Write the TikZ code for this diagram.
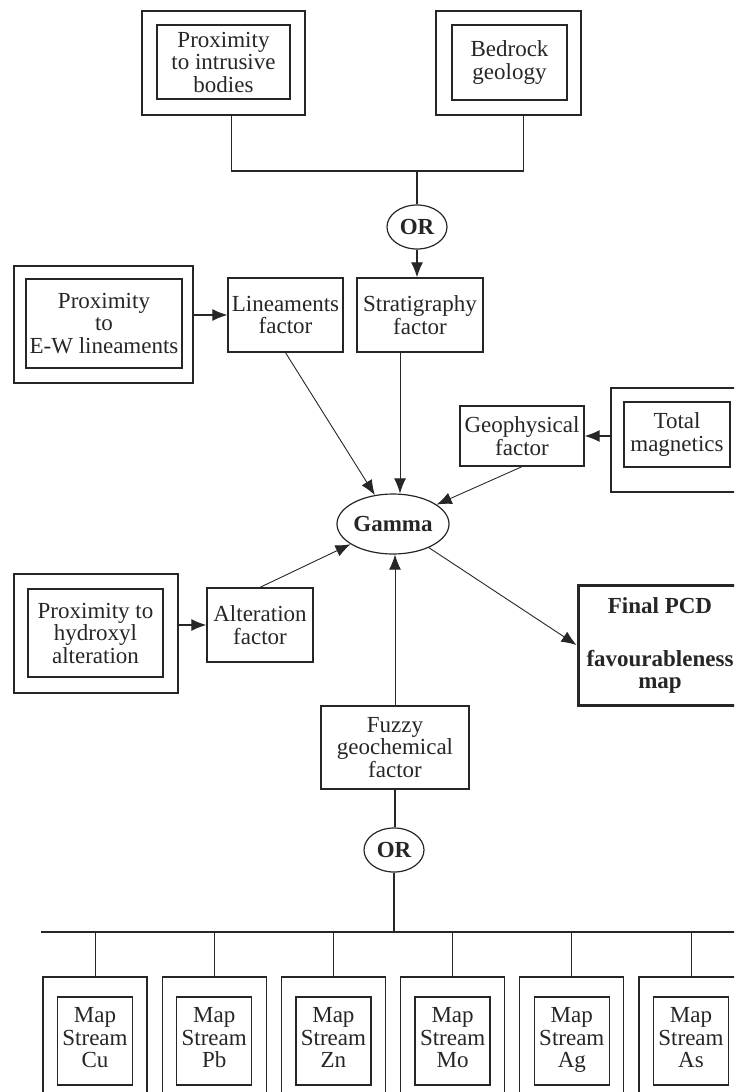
\documentclass[tikz,border=0pt]{standalone}
\usepackage{fontspec}
\setmainfont{Liberation Serif}
\usepackage{xcolor}
\usetikzlibrary{arrows.meta,shapes.geometric}

\begin{document}
\begin{tikzpicture}[x=1pt,y=-1pt,
  every node/.style={font=\fontsize{23}{22.5}\selectfont,align=center,inner sep=0pt,text=black!85},
  dblout/.style={draw=black!85,line width=1.3pt,rectangle},
  dblin/.style={draw=black!85,line width=1.3pt,rectangle},
  factor/.style={draw=black!85,line width=1.3pt,rectangle},
  gate/.style={draw=black!85,line width=1.2pt,ellipse,font=\fontsize{23}{22.5}\selectfont\bfseries},
  link/.style={draw=black!85,line width=1.3pt},
  arr/.style={draw=black!85,line width=0.9pt,-{Latex[length=15pt,width=12pt]}}]
  \useasboundingbox (0,0) rectangle (734,1092);
  \clip (0,0) rectangle (734,1092);
  % --- top: geology inputs
  \node[dblout,minimum width=163,minimum height=104] (intrO) at (223.5,63) {};
  \node[dblin,minimum width=133,minimum height=74] (intr) at (223.5,62) {Proximity\\to intrusive\\bodies};
  \node[dblout,minimum width=145,minimum height=104] (bedO) at (508.5,63) {};
  \node[dblin,minimum width=115,minimum height=75] (bed) at (509.5,62.5) {Bedrock\\geology};
  \coordinate (j1) at (417,171);
  \node[gate,minimum width=60,minimum height=44] (or1) at (417,227) {OR};
  \draw[link] ([xshift=8]intrO.south) |- (j1) -| ([xshift=15]bedO.south);
  \draw[link] (j1) -- (or1);
  % --- factors
  \node[factor,minimum width=126,minimum height=74] (strat) at (420,315) {Stratigraphy\\factor};
  \node[factor,minimum width=115,minimum height=74] (lin) at (285.5,315) {Lineaments\\factor};
  \node[dblout,minimum width=179,minimum height=117] (ewO) at (103.5,324.5) {};
  \node[dblin,minimum width=156,minimum height=89] (ew) at (104,323.5) {Proximity\\to\\E-W lineaments};
  \node[factor,minimum width=124,minimum height=60] (geo) at (522,436) {Geophysical\\factor};
  \node[dblout,minimum width=132,minimum height=104] (magO) at (677,440) {};
  \node[dblin,minimum width=106,minimum height=65] (mag) at (677,434.5) {Total\\magnetics};
  \node[dblout,minimum width=164,minimum height=119] (hyO) at (96,633.5) {};
  \node[dblin,minimum width=135,minimum height=88] (hy) at (95.5,633) {Proximity to\\hydroxyl\\alteration};
  \node[factor,minimum width=106,minimum height=74] (alt) at (260,625) {Alteration\\factor};
  \node[factor,minimum width=148,minimum height=83] (fuzzy) at (395,747.5) {Fuzzy\\geochemical\\factor};
  % --- gamma and result
  \node[gate,minimum width=88,minimum height=60] (gamma) at (393,524) {Gamma};
  \node[draw=black!85,line width=3pt,minimum width=164,minimum height=120,font=\fontsize{23}{22}\selectfont\bfseries] (final) at (660,645) {Final PCD\\[31pt]favourableness\\map};
  \draw[arr,line width=1.2pt] (or1.south) -- (or1.south |- strat.north);
  \draw[arr,line width=1.2pt] (ewO.east |- lin) -- (lin.west);
  \draw[arr,line width=1.2pt] (magO.west |- geo) -- (geo.east);
  \draw[arr,line width=1.2pt] (hyO.east |- alt) -- (alt.west);
  \draw[arr] (lin.south) -- (gamma);
  \draw[arr] ([xshift=-20]strat.south) -- ([xshift=-20]strat.south |- gamma.north);
  \draw[arr] (geo.south) -- (gamma);
  \draw[arr] (alt.north) -- (gamma);
  \draw[arr] (fuzzy.north) -- (fuzzy.north |- gamma.south);
  \draw[arr] (gamma) -- (final.west);
  % --- bottom: stream sediment maps
  \node[gate,minimum width=60,minimum height=44] (or2) at (394,850) {OR};
  \coordinate (busL) at (41,932);
  \coordinate (busR) at (760,932);
  \draw[link] (fuzzy.south) -- (fuzzy.south |- or2.north);
  \draw[link] (or2.south) -- (or2.south |- busL);
  \draw[link,line width=1.5pt] (busL) -- (busR);
  \foreach \el [count=\i from 0] in {Cu,Pb,Zn,Mo,Ag,As}{
    \node[dblout,minimum width=104,minimum height=140] (mapO\i) at ({95+119.2*\i},1047) {};
    \node[dblin,minimum width=75,minimum height=88] (map\i) at ({95+119.2*\i},1041) {Map\\Stream\\\el\strut};
    \draw[draw=black!85,line width=1pt] (mapO\i.north |- busL) -- (mapO\i.north);
  }
\end{tikzpicture}
\end{document}
